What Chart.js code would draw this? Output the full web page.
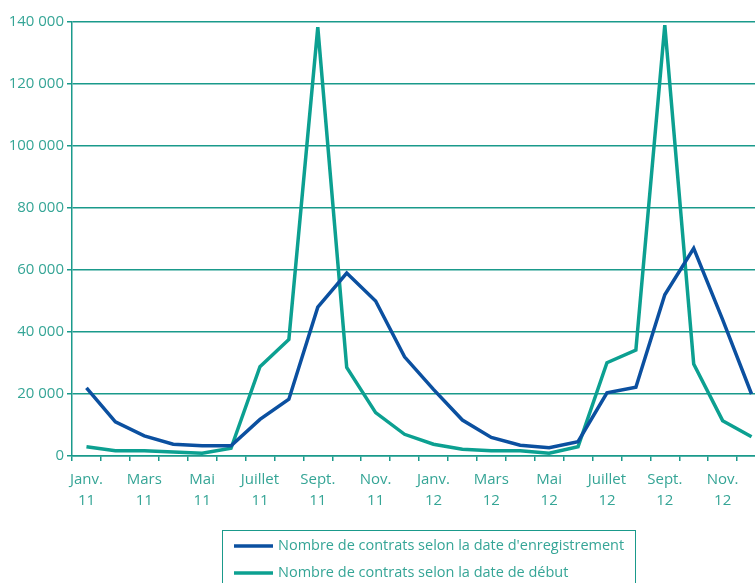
<!DOCTYPE html>
<html lang="fr">
<head>
<meta charset="utf-8">
<title>Nombre de contrats</title>
<script src="https://cdn.jsdelivr.net/npm/chart.js@4.4.1/dist/chart.umd.min.js"></script>
<style>
  html, body { margin: 0; padding: 0; background: #ffffff; overflow: hidden; }
  #wrap { position: relative; width: 766px; height: 583px; }
</style>
</head>
<body>
<div id="wrap"><canvas id="chart" width="766" height="583"></canvas></div>
<script>
// Mois de janvier 2011 à décembre 2012
const categories = [
  'Janv. 11', 'Févr. 11', 'Mars 11', 'Avr. 11', 'Mai 11', 'Juin 11',
  'Juillet 11', 'Août 11', 'Sept. 11', 'Oct. 11', 'Nov. 11', 'Déc. 11',
  'Janv. 12', 'Févr. 12', 'Mars 12', 'Avr. 12', 'Mai 12', 'Juin 12',
  'Juillet 12', 'Août 12', 'Sept. 12', 'Oct. 12', 'Nov. 12', 'Déc. 12'
];

// Libellés affichés sous l'axe (un mois sur deux)
const tickLabels = [
  ['Janv.', '11'], '', ['Mars', '11'], '', ['Mai', '11'], '',
  ['Juillet', '11'], '', ['Sept.', '11'], '', ['Nov.', '11'], '',
  ['Janv.', '12'], '', ['Mars', '12'], '', ['Mai', '12'], '',
  ['Juillet', '12'], '', ['Sept.', '12'], '', ['Nov.', '12'], ''
];

const seriesNames = [
  "Nombre de contrats selon la date d'enregistrement",
  'Nombre de contrats selon la date de début'
];

const enregistrement = [
  22000, 11000, 6500, 3800, 3300, 3300, 11800, 18300, 48000, 59000, 50000, 32000,
  21500, 11600, 6000, 3500, 2700, 4600, 20400, 22200, 52000, 67000, 44000, 20000
];

const debut = [
  3000, 1700, 1700, 1300, 900, 2500, 28800, 37600, 138300, 28600, 14000, 7000,
  3800, 2200, 1700, 1700, 900, 3000, 30100, 34200, 139000, 29700, 11400, 6200
];

const yTicks = [0, 20000, 40000, 60000, 80000, 100000, 120000, 140000];

const BLUE = '#0b50a0';
const TEAL = '#0ca091';
const AXIS = '#1a9a8b';
const TEXT = '#35a596';
const FONT = "'Open Sans', 'Noto Sans', sans-serif";

function formatThousands(v) {
  return String(v).replace(/\B(?=(\d{3})+(?!\d))/g, ' ');
}

// Légende encadrée sous le graphique
const boxedLegend = {
  id: 'boxedLegend',
  afterDraw(chart) {
    const ctx = chart.ctx;
    const left = 222.5, top = 530.5, right = 635.5, bottom = 600;
    ctx.save();
    ctx.strokeStyle = AXIS;
    ctx.lineWidth = 1;
    ctx.strokeRect(left, top, right - left, bottom - top);
    ctx.font = '14.5px ' + FONT;
    ctx.textBaseline = 'middle';
    ctx.textAlign = 'left';
    chart.data.datasets.forEach((ds, i) => {
      const y = 546 + i * 27;
      ctx.strokeStyle = ds.borderColor;
      ctx.lineWidth = 3.5;
      ctx.beginPath();
      ctx.moveTo(234, y);
      ctx.lineTo(273, y);
      ctx.stroke();
      ctx.fillStyle = TEXT;
      ctx.fillText(ds.label, 278, y);
    });
    ctx.restore();
  }
};

new Chart(document.getElementById('chart'), {
  type: 'line',
  data: {
    labels: categories,
    datasets: [
      {
        label: seriesNames[0],
        data: enregistrement,
        borderColor: BLUE,
        backgroundColor: BLUE,
        borderWidth: 3.5,
        pointRadius: 0,
        tension: 0
      },
      {
        label: seriesNames[1],
        data: debut,
        borderColor: TEAL,
        backgroundColor: TEAL,
        borderWidth: 3.5,
        pointRadius: 0,
        tension: 0
      }
    ]
  },
  options: {
    responsive: false,
    animation: false,
    layout: { padding: { left: 0, right: 0, top: 22, bottom: 75 } },
    plugins: {
      legend: { display: false },
      tooltip: { enabled: false }
    },
    scales: {
      x: {
        offset: true,
        border: { display: true, color: AXIS, width: 1.5 },
        grid: {
          offset: true,
          drawOnChartArea: false,
          drawTicks: true,
          tickLength: 5,
          color: AXIS,
          lineWidth: 1.5
        },
        ticks: {
          autoSkip: false,
          maxRotation: 0,
          minRotation: 0,
          padding: 9,
          color: TEXT,
          font: { family: FONT, size: 15, lineHeight: 1.35 },
          callback: (v, i) => tickLabels[i]
        },
        afterFit(scale) { scale.height = 52; }
      },
      y: {
        min: 0,
        max: 140000,
        afterBuildTicks(scale) {
          scale.ticks = yTicks.map(v => ({ value: v }));
        },
        border: { display: true, color: AXIS, width: 1.5 },
        grid: {
          drawTicks: true,
          tickLength: 5,
          color: AXIS,
          lineWidth: 1.5
        },
        ticks: {
          padding: 3,
          color: TEXT,
          font: { family: FONT, size: 15 },
          callback: v => formatThousands(v)
        },
        afterFit(scale) { scale.width = 72; }
      }
    }
  },
  plugins: [boxedLegend]
});
</script>
</body>
</html>
